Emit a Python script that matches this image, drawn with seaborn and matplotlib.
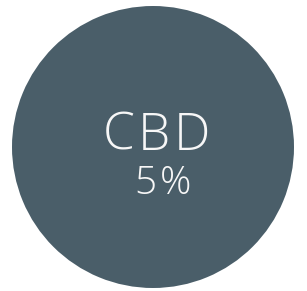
import matplotlib
matplotlib.use("Agg")
import matplotlib.pyplot as plt
import seaborn as sns

category = "CBD"
values = [5]
share_label = "5%"

sns.set_theme(style="white")
plt.rcParams['font.family'] = ['Open Sans', 'DejaVu Sans']

W, H = 307, 291
fig = plt.figure(figsize=(W / 100, H / 100), dpi=100)
ax = fig.add_axes([0, 0, 1, 1])
ax.pie([sum(values)], colors=["#4a5e69"], radius=1, startangle=90,
       wedgeprops=dict(linewidth=0))
cx, cy, r = 153, 147, 141
ax.set_xlim(-cx / r, (W - cx) / r)
ax.set_ylim(-(H - cy) / r, cy / r)
ax.set_aspect('equal')
ax.axis('off')

renderer = fig.canvas.get_renderer()

def tracked(s, xc, ycap_mid, size, track):
    objs, widths = [], []
    for ch in s:
        t = fig.text(0, 0, ch, fontsize=size, fontweight='light', color='#f7f7f7',
                     ha='left', va='center')
        bb = t.get_window_extent(renderer)
        objs.append(t)
        widths.append(bb.width)
    total = sum(widths) + track * (len(s) - 1)
    x = xc - total / 2
    for t, w in zip(objs, widths):
        t.set_position((x / W, (H - ycap_mid) / H))
        x += w + track

tracked(category, 156.5, 136, 37, 3.5)
tracked(share_label, 162.5, 184, 28, 3.5)

fig.savefig("out.png", dpi=100, facecolor='white')
